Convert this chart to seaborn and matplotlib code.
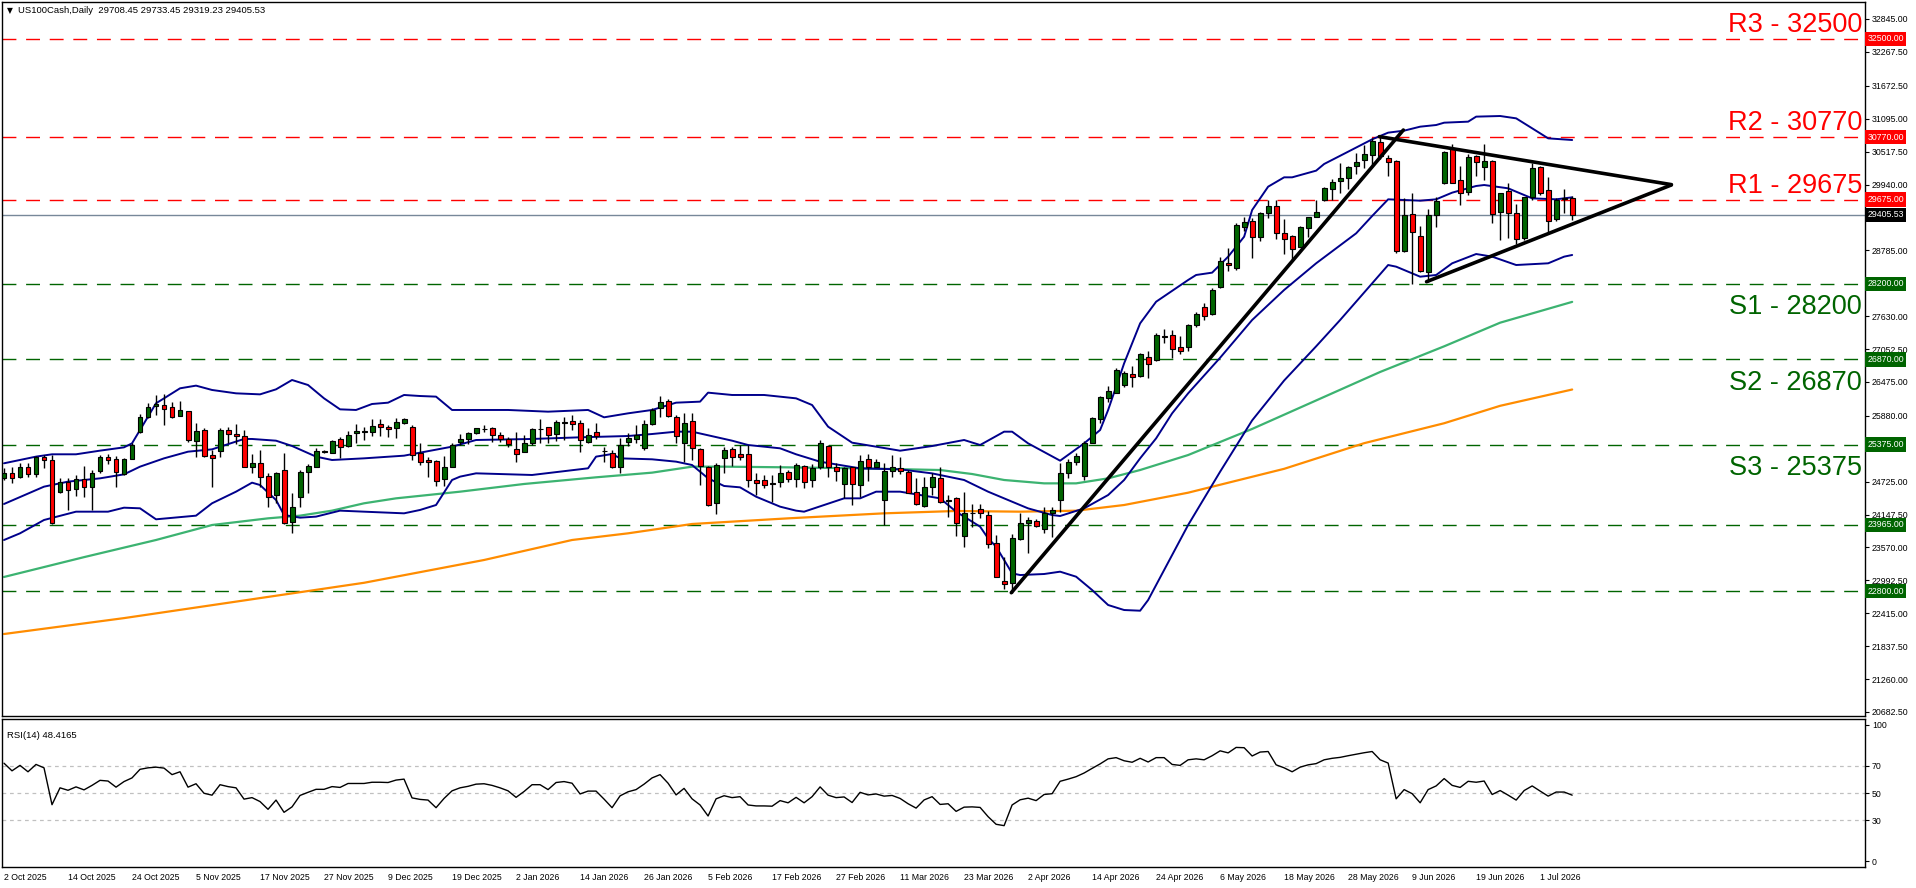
import numpy as np
import pandas as pd
import matplotlib
matplotlib.use('Agg')
import matplotlib.pyplot as plt
import matplotlib.transforms as mtransforms
import seaborn as sns

# ---------------- data ----------------
opens = [
    24783, 24883, 24813, 24976, 24854, 25152, 25105, 24537, 24725, 24590,
    24766, 24625, 24918, 25152, 25117, 24854, 25128, 25602, 25854, 26053,
    26064, 26029, 25883, 25959, 25444, 25626, 25187, 25269, 25632, 25561,
    25520, 24988, 25047, 24824, 24491, 24924, 24023, 24461, 24900, 24988,
    25245, 25234, 25468, 25357, 25573, 25596, 25590, 25731, 25684, 25661,
    25749, 25690, 25222, 25105, 25082, 24766, 24988, 25415, 25468, 25573,
    25655, 25661, 25538, 25468, 25292, 25251, 25397, 25650, 25678, 25561,
    25760, 25784, 25760, 25427, 25596, 25269, 25234, 24988, 25415, 25468,
    25310, 25731, 26012, 26146, 25866, 25409, 25784, 25292, 24988, 24345,
    25134, 25292, 25205, 25205, 24754, 24754, 24696, 24713, 24889, 24765,
    24999, 24754, 24988, 25350, 24976, 24683, 24976, 24666, 25128, 24988,
    24402, 24917, 24970, 24900, 24549, 24297, 24637, 24783, 24390, 24432,
    23771, 24170, 24239, 24139, 23642, 22987, 22940, 23712, 23993, 24029,
    23888, 24169, 24402, 24870, 25064, 24824, 25409, 25818, 26186, 26286,
    26421, 26614, 26579, 26918, 26860, 27274, 27292, 27082, 27093, 27480,
    27784, 27661, 28135, 28562, 28469, 29200, 29305, 29024, 29434, 29568,
    29094, 29036, 28849, 29171, 29364, 29668, 29855, 29996, 30048, 30265,
    30370, 30458, 30692, 30399, 30352, 28779, 29416, 29036, 28410, 29405,
    29960, 30586, 30019, 29814, 30440, 30253, 30358, 29463, 29826, 29446,
    28995, 29726, 30241, 29843, 29329, 29690, 29708]
highs = [
    24959, 24988, 25047, 25047, 25175, 25193, 25193, 24783, 24783, 24842,
    25000, 24930, 25193, 25205, 25175, 25134, 25397, 25906, 26100, 26246,
    26263, 26129, 26140, 25959, 25749, 25661, 25281, 25661, 25690, 25737,
    25632, 25210, 25281, 24871, 24900, 25234, 24520, 24930, 25035, 25310,
    25281, 25456, 25503, 25620, 25737, 25690, 25819, 25819, 25719, 25836,
    25836, 25719, 25397, 25164, 25105, 25181, 25397, 25561, 25602, 25672,
    25714, 25690, 25602, 25503, 25602, 25544, 25661, 25819, 25690, 25807,
    25866, 25895, 25807, 25661, 25760, 25339, 25281, 25485, 25585, 25714,
    25807, 26023, 26228, 26170, 25895, 25936, 25936, 25310, 25000, 25047,
    25339, 25327, 25368, 25368, 24871, 24842, 24842, 25017, 24930, 25046,
    25017, 25034, 25455, 25368, 25058, 24988, 24988, 25192, 25210, 25116,
    25046, 25192, 25163, 24929, 24783, 24800, 24882, 24976, 24490, 24461,
    24549, 24332, 24332, 24215, 23788, 23396, 23806, 24169, 24110, 24064,
    24286, 24274, 25046, 25116, 25222, 25444, 25865, 26228, 26403, 26713,
    26672, 26754, 26988, 27023, 27339, 27398, 27386, 27281, 27491, 27700,
    27866, 28118, 28673, 28820, 29258, 29364, 29346, 29463, 29668, 29668,
    29329, 29054, 29212, 29376, 29668, 29902, 30031, 30311, 30270, 30487,
    30633, 30750, 30780, 30458, 30370, 29697, 29797, 29212, 29504, 29726,
    30534, 30651, 30265, 30475, 30458, 30651, 30370, 29797, 29960, 29598,
    29726, 30323, 30265, 30066, 29697, 29855, 29733]
lows = [
    24754, 24707, 24783, 24801, 24813, 24959, 23982, 24520, 24228, 24473,
    24461, 24228, 24871, 25035, 24637, 24842, 25117, 25585, 25836, 25895,
    25714, 25836, 25877, 25427, 25152, 25152, 24625, 25164, 25397, 25386,
    24976, 24883, 24637, 24286, 24356, 23982, 23830, 24286, 24520, 24976,
    25222, 25222, 25146, 25339, 25397, 25456, 25526, 25526, 25515, 25485,
    25737, 25105, 25017, 24813, 24649, 24649, 24976, 25368, 25386, 25561,
    25602, 25427, 25427, 25327, 25076, 25251, 25368, 25397, 25397, 25444,
    25456, 25632, 25251, 25409, 25468, 25076, 24959, 24883, 25351, 25409,
    25281, 25719, 25866, 25866, 25409, 25076, 25105, 24666, 24298, 24157,
    24871, 25000, 25105, 24637, 24491, 24608, 24374, 24637, 24725, 24625,
    24607, 24637, 24941, 24812, 24742, 24432, 24315, 24461, 24742, 24988,
    23964, 24800, 24859, 24520, 24315, 24286, 24490, 24356, 24110, 23771,
    23584, 23934, 24081, 23554, 23045, 22835, 22765, 23700, 23466, 23934,
    23818, 23759, 24198, 24783, 25017, 24754, 25397, 25760, 26128, 26275,
    26392, 26392, 26567, 26538, 26848, 27164, 26889, 26965, 27023, 27440,
    27562, 27650, 28118, 28428, 28440, 29130, 28644, 28954, 29346, 28978,
    28720, 28603, 28837, 29024, 29364, 29656, 29668, 29797, 29855, 30124,
    30224, 30253, 30382, 30089, 28732, 28761, 28194, 28410, 28235, 29200,
    29949, 29960, 29580, 29756, 30089, 30019, 29258, 28966, 28995, 28896,
    28966, 29668, 29756, 29112, 29305, 29434, 29319]
closes = [
    24883, 24783, 24976, 24854, 25152, 25099, 23994, 24725, 24578, 24766,
    24625, 24871, 25152, 25099, 24889, 25117, 25368, 25866, 26029, 26088,
    26006, 25854, 25983, 25456, 25614, 25181, 25134, 25632, 25555, 25520,
    24988, 25047, 24813, 24450, 24871, 23994, 24280, 24889, 25000, 25269,
    25269, 25438, 25339, 25550, 25614, 25620, 25702, 25678, 25643, 25772,
    25819, 25193, 25076, 25070, 24736, 24976, 25368, 25468, 25573, 25661,
    25650, 25538, 25468, 25386, 25205, 25397, 25643, 25655, 25538, 25766,
    25766, 25731, 25456, 25538, 25526, 25263, 24988, 25368, 25485, 25538,
    25731, 25983, 26129, 25877, 25526, 25749, 25310, 25000, 24315, 25011,
    25281, 25164, 25164, 24754, 24696, 24672, 24690, 24871, 24766, 25017,
    24724, 24958, 25409, 24988, 24911, 24958, 24683, 25093, 24976, 25075,
    24917, 24976, 24917, 24531, 24332, 24637, 24800, 24373, 24397, 23993,
    24180, 24175, 24169, 23630, 23057, 22922, 23730, 23993, 24052, 23946,
    24169, 24227, 24870, 25075, 25175, 25409, 25836, 26204, 26321, 26684,
    26626, 26567, 26965, 26789, 27298, 27269, 27047, 27018, 27474, 27661,
    27632, 28089, 28597, 28521, 29229, 29288, 29024, 29434, 29568, 29083,
    28978, 28802, 29188, 29364, 29452, 29873, 29984, 30048, 30241, 30329,
    30475, 30709, 30440, 30341, 28779, 29405, 29101, 28428, 29405, 29650,
    30505, 29972, 29797, 30417, 30341, 30352, 29422, 29785, 29446, 28978,
    29715, 30224, 29797, 29299, 29668, 29697, 29406]

rsi_values = [
    71.9, 66.3, 70.3, 65.6, 71.0, 68.5, 41.4, 53.8, 52.0, 54.5,
    52.3, 55.6, 59.3, 58.8, 54.3, 58.4, 61.1, 67.4, 68.5, 69.0,
    68.3, 63.5, 65.6, 54.3, 56.8, 49.8, 48.4, 56.1, 54.7, 53.8,
    45.5, 46.6, 43.7, 38.0, 44.8, 35.8, 39.8, 48.2, 50.5, 52.7,
    52.7, 54.7, 54.1, 57.0, 57.0, 57.0, 57.9, 57.9, 57.7, 59.5,
    60.2, 46.4, 45.3, 44.8, 39.2, 46.0, 51.6, 53.8, 54.9, 56.5,
    56.8, 55.6, 53.8, 51.6, 46.8, 51.1, 56.1, 56.1, 52.5, 57.7,
    58.4, 57.2, 49.3, 51.4, 51.4, 45.5, 39.2, 47.9, 50.9, 52.5,
    56.5, 61.1, 63.5, 57.2, 48.6, 53.4, 45.7, 41.2, 33.1, 45.7,
    48.0, 46.6, 47.3, 41.2, 40.5, 40.5, 40.3, 44.4, 42.8, 46.8,
    42.8, 47.3, 54.5, 48.4, 46.6, 47.1, 43.0, 50.5, 48.6, 49.3,
    47.7, 48.2, 46.0, 42.1, 38.9, 44.9, 47.3, 41.6, 42.1, 36.5,
    39.6, 39.8, 39.4, 32.6, 27.0, 26.0, 41.2, 45.0, 46.2, 44.4,
    48.9, 49.5, 58.6, 60.2, 62.0, 64.7, 68.1, 71.4, 75.1, 76.0,
    73.7, 72.6, 75.5, 72.8, 76.0, 76.0, 71.0, 70.3, 74.4, 75.1,
    74.4, 77.4, 81.0, 79.5, 83.5, 83.3, 77.2, 80.1, 80.5, 70.7,
    68.5, 65.6, 69.0, 70.7, 71.6, 74.4, 75.5, 76.2, 77.4, 78.5,
    79.6, 80.5, 74.4, 72.0, 45.7, 52.5, 49.5, 42.8, 52.5, 55.2,
    60.6, 55.6, 54.1, 58.6, 57.9, 58.8, 48.9, 51.8, 48.4, 44.8,
    51.8, 55.2, 51.4, 47.7, 50.7, 50.7, 48.42]

# Bollinger bands (bar index, value), read at turning points
bb_upper_x = [0, 4, 6, 9, 12, 15, 16, 18, 19, 20, 22, 24, 26, 29, 32, 34, 36, 38, 40, 42,
              44, 46, 48, 50, 52, 54, 56, 59, 63, 68, 73, 75, 78, 81, 84, 87, 88, 91, 95, 99,
              101, 103, 106, 109, 112, 116, 120, 122, 125, 126, 128, 132, 135, 137, 138, 140,
              142, 144, 148, 149, 151, 153, 155, 156, 158, 160, 161, 164, 165, 168, 171, 173,
              175, 177, 179, 180, 183, 184, 187, 189, 191, 193, 196]
bb_upper = [25047, 25164, 25205, 25205, 25269, 25327, 25397, 25866, 26100, 26187, 26363, 26410,
            26334, 26275, 26257, 26345, 26509, 26421, 26187, 25994, 25983, 26088, 26111, 26246,
            26228, 26217, 25983, 25983, 25983, 25953, 25983, 25854, 25924, 25983, 26111, 26129,
            26287, 26246, 26246, 26187, 26070, 25690, 25409, 25339, 25268, 25350, 25456, 25368,
            25602, 25602, 25397, 25093, 25397, 25631, 25982, 26801, 27503, 27883, 28264, 28352,
            28393, 28673, 29024, 29492, 29902, 30066, 30066, 30183, 30300, 30516, 30733, 30850,
            30885, 30955, 30984, 31025, 31043, 31131, 31142, 31101, 30926, 30750, 30721]
bb_mid_x = [0, 5, 8, 12, 15, 17, 20, 23, 26, 30, 31, 34, 36, 39, 41, 45, 50, 56, 59, 66,
            72, 78, 81, 84, 86, 91, 93, 97, 99, 102, 107, 112, 116, 120, 123, 126, 128, 131,
            132, 135, 138, 140, 142, 144, 146, 148, 152, 156, 160, 164, 169, 171, 173, 177,
            179, 181, 184, 185, 188, 189, 191, 194, 196]
bb_mid = [24333, 24637, 24725, 24783, 24853, 24988, 25134, 25251, 25292, 25474, 25474, 25444,
          25351, 25164, 25105, 25134, 25181, 25339, 25456, 25474, 25503, 25526, 25561, 25602,
          25602, 25444, 25368, 25310, 25205, 25075, 24958, 24941, 24870, 24754, 24549, 24373,
          24256, 24139, 24122, 24256, 24490, 24754, 25134, 25485, 25924, 26275, 26900, 27562,
          28089, 28557, 29083, 29387, 29680, 29656, 29680, 29797, 29914, 29931, 29873, 29814,
          29697, 29680, 29715]
bb_lower_x = [0, 2, 5, 9, 13, 15, 17, 19, 24, 26, 29, 31, 32, 34, 35, 37, 39, 42, 45, 50,
              52, 54, 56, 57, 59, 66, 73, 74, 76, 77, 81, 84, 86, 88, 90, 92, 94, 97, 99, 100,
              105, 107, 109, 112, 117, 119, 122, 123, 124, 126, 127, 130, 132, 134, 136, 138,
              140, 142, 143, 145, 148, 152, 156, 160, 164, 167, 171, 173, 174, 177, 179, 181,
              184, 186, 189, 193, 195, 196]
bb_lower = [23701, 23818, 24052, 24198, 24198, 24268, 24257, 24064, 24128, 24345, 24549, 24707,
            24666, 24403, 24140, 24093, 24111, 24216, 24198, 24169, 24228, 24315, 24754, 24813,
            24871, 24842, 24959, 25164, 25210, 25134, 25117, 25076, 25017, 24783, 24649, 24625,
            24461, 24286, 24216, 24198, 24432, 24432, 24549, 24549, 24432, 24198, 23935, 23730,
            23584, 23116, 23086, 23104, 23145, 23057, 22823, 22560, 22472, 22460, 22647, 23174,
            23964, 24900, 25800, 26500, 27100, 27562, 28205, 28527, 28498, 28322, 28352, 28557,
            28720, 28674, 28527, 28557, 28674, 28703]

# moving averages (bar index, value)
ma100_x = [0, 10, 19, 26, 33, 37, 41, 45, 49, 57, 65, 74, 81, 86, 90, 98, 107, 117, 121, 125,
           130, 134, 138, 142, 148, 156, 164, 172, 180, 187, 196]
ma100 = [23052, 23400, 23701, 23964, 24081, 24128, 24216, 24345, 24432, 24549, 24684, 24801,
         24883, 24988, 24988, 24976, 24958, 24929, 24859, 24754, 24695, 24695, 24783, 24929,
         25192, 25650, 26150, 26650, 27100, 27515, 27880]
ma200_x = [0, 15, 30, 45, 60, 71, 78, 86, 98, 110, 119, 127, 134, 140, 148, 160, 170, 180, 187, 196]
ma200 = [22051, 22330, 22640, 22950, 23350, 23701, 23818, 23982, 24081, 24169, 24210, 24198,
         24215, 24315, 24531, 24950, 25400, 25750, 26056, 26342]

# drawn trendlines: (bar index, price) start -> end
trend_x = [[125.9, 174.9], [171.9, 208.4], [177.8, 208.4]]
trend_y = [[22776, 30896], [30780, 29938], [28234, 29932]]

resistance = [32500, 30770, 29675]
resistance_names = ['R3', 'R2', 'R1']
support = [28200, 26870, 25375, 23965, 22800]
support_names = ['S1', 'S2', 'S3', None, None]
last_price = 29405.53

price_ticks = [32845.00, 32267.50, 31672.50, 31095.00, 30517.50, 29940.00, 28785.00, 27630.00,
               27052.50, 26475.00, 25880.00, 25302.50, 24725.00, 24147.50, 23570.00, 22992.50,
               22415.00, 21837.50, 21260.00, 20682.50]
hidden_ticks = [25302.50]  # label sits under the 25375 box
date_labels = ['2 Oct 2025', '14 Oct 2025', '24 Oct 2025', '5 Nov 2025', '17 Nov 2025',
               '27 Nov 2025', '9 Dec 2025', '19 Dec 2025', '2 Jan 2026', '14 Jan 2026',
               '26 Jan 2026', '5 Feb 2026', '17 Feb 2026', '27 Feb 2026', '11 Mar 2026',
               '23 Mar 2026', '2 Apr 2026', '14 Apr 2026', '24 Apr 2026', '6 May 2026',
               '18 May 2026', '28 May 2026', '9 Jun 2026', '19 Jun 2026', '1 Jul 2026']

# ---------------- styling ----------------
sns.set_style('white')
plt.rcParams['font.family'] = ['Liberation Sans', 'DejaVu Sans']

RED = '#ff0000'
GREEN = '#006400'
BAND = '#00008b'
TICK_FS = 6.3

fig = plt.figure(figsize=(19.16, 8.88), dpi=100)
ax = fig.add_axes([2 / 1916, 1 - 716 / 888, 1863 / 1916, 714 / 888])
ax_rsi = fig.add_axes([2 / 1916, 1 - 867 / 888, 1863 / 1916, 148 / 888])

o = np.array(opens, dtype=float)
h = np.array(highs, dtype=float)
l = np.array(lows, dtype=float)
c = np.array(closes, dtype=float)
x = np.arange(len(c))

# level lines
for lv in resistance:
    ax.axhline(lv, color=RED, lw=1, ls=(0, (10, 7)), zorder=1)
for lv in support:
    ax.axhline(lv, color=GREEN, lw=1, ls=(0, (10, 7)), zorder=1)
ax.axhline(last_price, color='#778899', lw=1, zorder=1)

# indicators
sns.lineplot(x=ma200_x, y=ma200, ax=ax, color='#ff8c00', lw=1.6, zorder=2)
sns.lineplot(x=ma100_x, y=ma100, ax=ax, color='#3cb371', lw=1.6, zorder=2)
for bx, by in [(bb_upper_x, bb_upper), (bb_mid_x, bb_mid), (bb_lower_x, bb_lower)]:
    sns.lineplot(x=bx, y=by, ax=ax, color=BAND, lw=1.4, zorder=2)

# candles
up = c >= o
ax.vlines(x, l, h, color='black', lw=1, zorder=3)
ax.bar(x, np.abs(c - o), bottom=np.minimum(o, c), width=0.62,
       color=np.where(up, GREEN, RED), edgecolor='black', linewidth=0.8, zorder=4)

# trendlines
for tx, ty in zip(trend_x, trend_y):
    ax.plot(tx, ty, color='black', lw=2.6, zorder=5, solid_capstyle='round')

ax.set_xlim(-0.25, 232.6)
ax.set_ylim(20612, 33143)
ax.set_xticks([])
ax.set_xlabel('')
ax.set_ylabel('')
ax.yaxis.tick_right()
ax.set_yticks(price_ticks)
ax.set_yticklabels(['' if v in hidden_ticks else f'{v:.2f}' for v in price_ticks])
ax.tick_params(axis='y', direction='out', length=3, width=0.8, pad=2,
               labelsize=TICK_FS, colors='black')

trans = mtransforms.blended_transform_factory(ax.transAxes, ax.transData)

# big level captions
for lv, name in zip(resistance, resistance_names):
    ax.annotate(f'{name} - {lv}', xy=(0.9985, lv), xycoords=trans, xytext=(0, 5),
                textcoords='offset points', ha='right', va='baseline',
                fontsize=19.5, color=RED, zorder=6)
for lv, name in zip(support, support_names):
    if name:
        ax.annotate(f'{name} - {lv}', xy=(0.9985, lv), xycoords=trans, xytext=(0, -7.5),
                    textcoords='offset points', ha='right', va='top',
                    fontsize=19.5, color=GREEN, zorder=6)

# price boxes on the axis
def price_box(val, fc):
    ax.text(1.0012, val, f'{val:.2f}', transform=trans, ha='left', va='center',
            fontsize=TICK_FS, color='white', clip_on=False, zorder=10,
            bbox=dict(boxstyle='square,pad=0.3', fc=fc, ec='none'))

for lv in resistance:
    price_box(lv, RED)
for lv in support:
    price_box(lv, GREEN)
price_box(last_price, 'black')

# header
ax.text(0.0025, 0.9885, '\u25bc', transform=ax.transAxes, fontsize=5.5, color='black',
        va='center', ha='left', family=['DejaVu Sans'])
ax.text(0.0088, 0.9885, 'US100Cash,Daily  29708.45 29733.45 29319.23 29405.53',
        transform=ax.transAxes, fontsize=6.8, color='black', va='center', ha='left')

for sp in ax.spines.values():
    sp.set_color('black')
    sp.set_linewidth(1)

# ---------------- RSI panel ----------------
for lv in [70, 50, 30]:
    ax_rsi.axhline(lv, color='#c0c0c0', lw=0.9, ls=(0, (3, 3)), zorder=1)
sns.lineplot(x=x, y=rsi_values, ax=ax_rsi, color='black', lw=1, zorder=2)
ax_rsi.set_xlim(-0.25, 232.6)
ax_rsi.set_ylim(-4.4, 104.4)
ax_rsi.set_xlabel('')
ax_rsi.set_ylabel('')
ax_rsi.yaxis.tick_right()
ax_rsi.set_yticks([0, 30, 50, 70, 100])
ax_rsi.set_yticklabels(['0', '30', '50', '70', '100'])
ax_rsi.tick_params(axis='y', direction='out', length=3, width=0.8, pad=2,
                   labelsize=TICK_FS, colors='black')
tick_pos = np.arange(len(date_labels)) * 8
ax_rsi.set_xticks(tick_pos)
ax_rsi.set_xticklabels(date_labels, ha='left')
ax_rsi.tick_params(axis='x', direction='out', length=3, width=0.8, pad=1,
                   labelsize=TICK_FS, colors='black')
ax_rsi.text(0.0028, 0.89, 'RSI(14) 48.4165', transform=ax_rsi.transAxes,
            fontsize=6.8, color='black', va='center', ha='left')
for sp in ax_rsi.spines.values():
    sp.set_color('black')
    sp.set_linewidth(1)

fig.savefig('out.png', dpi=100)
